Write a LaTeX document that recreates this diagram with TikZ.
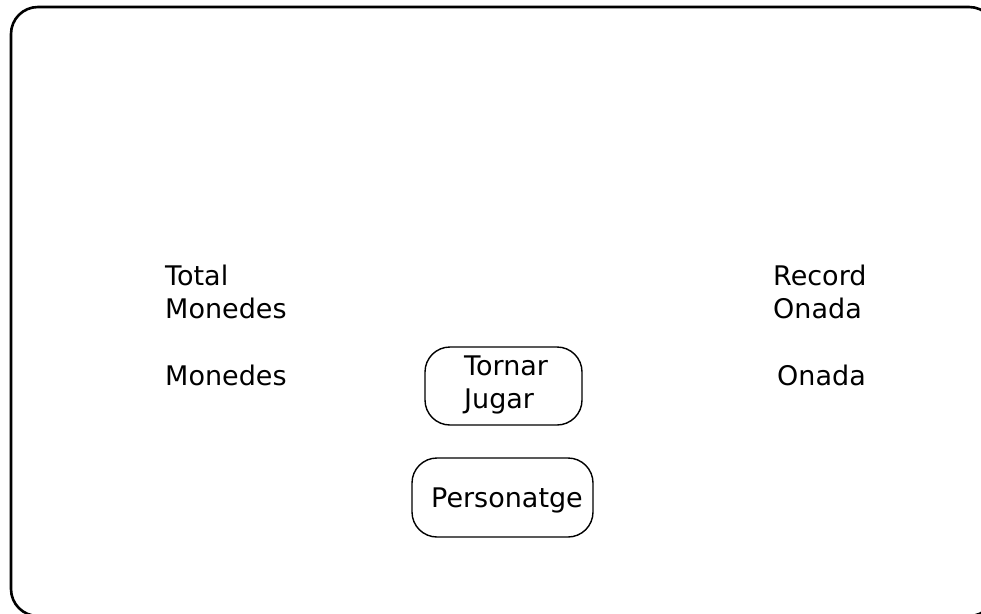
\documentclass[tikz,border=0pt]{standalone}
\usepackage{fontspec}
\setmainfont{DejaVu Sans}
\begin{document}
\begin{tikzpicture}[x=1pt,y=-1pt,
  label/.style={inner sep=0pt, anchor=base west, align=left, font=\fontsize{27}{33}\selectfont},
  btnbox/.style={draw, line width=1.4pt, rounded corners=25pt}]
  \useasboundingbox (0,0) rectangle (981,613);
  % screen frame
  \draw[line width=2.6pt, rounded corners=27pt] (11,7) rectangle (996,616);
  % score labels (base anchor sits on the last line)
  \node[label] (total) at (165,318) {Total\\Monedes};
  \node[label] (coins) at (165,385) {Monedes};
  \node[label] (record) at (773,318) {Record\\Onada};
  \node[label] (wave) at (777,385) {Onada};
  % buttons
  \draw[btnbox] (425,347) rectangle (582,425);
  \node[label] (retry) at (464,408) {Tornar\\Jugar};
  \draw[btnbox] (412,458) rectangle (593,537);
  \node[label] (character) at (431,507) {Personatge};
\end{tikzpicture}
\end{document}
